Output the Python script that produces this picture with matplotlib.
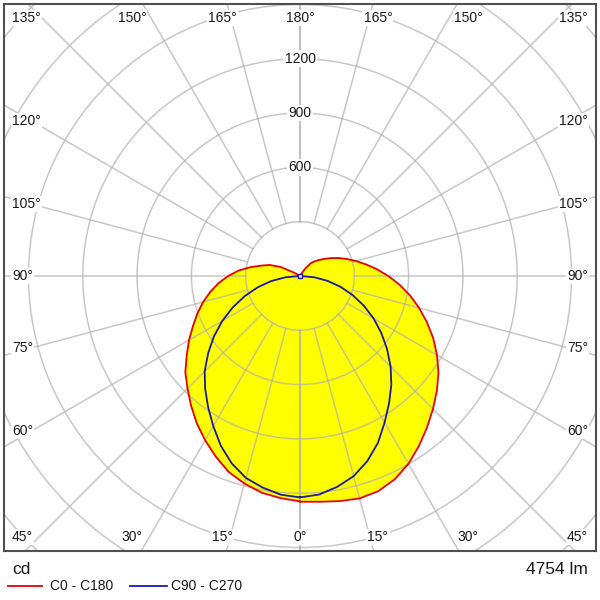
import numpy as np
import matplotlib.pyplot as plt
from matplotlib.patches import Circle
from matplotlib.lines import Line2D

plt.rcParams['font.family'] = ['Liberation Sans', 'DejaVu Sans']

# luminous intensity distribution (cd), gamma measured from nadir
gamma = [0, 5, 10, 15, 20, 25, 30, 35, 40, 45, 50, 55, 60, 65, 70, 75, 80, 85, 90,
         95, 100, 105, 110, 115, 120, 125, 130, 135, 140, 145, 150, 155, 160, 165, 170, 175, 180]
c0 = [1247, 1252, 1263, 1272, 1265, 1239, 1198, 1146, 1092, 1039, 987, 934, 874, 812, 746, 681, 617, 552, 488,
      427, 370, 320, 275, 235, 198, 165, 138, 115, 92, 50, 5, 0, 0, 0, 0, 0, 0]
c180 = [1245, 1232, 1216, 1187, 1152, 1101, 1048, 994, 936, 879, 827, 764, 708, 652, 603, 554, 503, 452, 397,
        341, 279, 222, 178, 118, 35, 0, 0, 0, 0, 0, 0, 0, 0, 0, 0, 0, 0]
c90 = [1223, 1212, 1183, 1145, 1088, 1018, 935, 858, 785, 708, 628, 548, 470, 390, 310, 232, 155, 78, 0,
       0, 0, 0, 0, 0, 0, 0, 0, 0, 0, 0, 0, 0, 0, 0, 0, 0, 0]
c270 = [1223, 1213, 1187, 1155, 1102, 1035, 958, 885, 815, 745, 662, 580, 495, 410, 325, 242, 162, 80, 0,
        0, 0, 0, 0, 0, 0, 0, 0, 0, 0, 0, 0, 0, 0, 0, 0, 0, 0]

ring_values = [300, 600, 900, 1200, 1500, 1800, 2100]
ring_labels = [600, 900, 1200]
spoke_angles = [0, 15, 30, 45, 60, 75, 90, 105, 120, 135, 150, 165, 180]
flux_text = '4754 lm'

PX = 1 / 0.181  # cd per pixel
TXT = '#1a1a1a'

fig = plt.figure(figsize=(6, 6), dpi=100)
ax = fig.add_axes([4 / 600, 49 / 600, 592 / 600, 547 / 600])
ax.set_xlim(-296 * PX, 296 * PX)
ax.set_ylim(-275 * PX, 272 * PX)
ax.set_xticks([])
ax.set_yticks([])
for sp in ax.spines.values():
    sp.set_color('#505050')
    sp.set_linewidth(1.5)


def half(values, side):
    g = np.radians(gamma)
    r = np.array(values, dtype=float)
    return side * r * np.sin(g), -r * np.cos(g)


def closed(right, left):
    xr, yr = half(right, 1)
    xl, yl = half(left, -1)
    return np.concatenate([xr, xl[::-1]]), np.concatenate([yr, yl[::-1]])


red_x, red_y = closed(c0, c180)
blue_x, blue_y = closed(c90, c270)

ax.fill(red_x, red_y, color='#ffff00', lw=0, zorder=1)
ax.fill(blue_x, blue_y, color='#ffff00', lw=0, zorder=1)

grid_c = '#b0b0b0'
for rv in ring_values:
    ax.add_patch(Circle((0, 0), rv, fill=False, ec=grid_c, lw=1.1, alpha=0.7, zorder=2))
for a in spoke_angles:
    t = np.radians(a)
    for s in (1, -1):
        ax.plot([s * 300 * np.sin(t), s * 2600 * np.sin(t)], [-300 * np.cos(t), -2600 * np.cos(t)],
                color=grid_c, lw=1.1, alpha=0.7, zorder=2)

ax.plot(red_x, red_y, color='#e60000', lw=1.3, zorder=4, solid_joinstyle='round')
ax.plot(blue_x, blue_y, color='#1a1a9a', lw=1.3, zorder=4, solid_joinstyle='round')
ax.plot([0], [0], marker='s', ms=3.5, mfc='white', mec='#1a1a9a', mew=1, zorder=5)

box = dict(facecolor='white', edgecolor='none', pad=1.0)
for rl in ring_labels:
    ax.text(0, rl, str(rl), ha='center', va='center', fontsize=10, color=TXT, bbox=box, zorder=6)

# angle labels around the frame
for a in spoke_angles:
    for s in (1, -1):
        if s == 1 and a in (0, 180):
            continue
        if a <= 45 or a >= 135:
            off = 291 * np.tan(np.radians(a if a <= 45 else 180 - a))
            y = -261 if a <= 45 else 258
            if off > 280:
                x, ha = s * 288, ('left' if s < 0 else 'right')
            else:
                x, ha = s * off, 'center'
        else:
            y = 268 * np.tan(np.radians(a - 90))
            x, ha = s * 288, ('left' if s < 0 else 'right')
        ax.text(x * PX, y * PX, f'{a}°', ha=ha, va='center', fontsize=10, color=TXT,
                bbox=dict(facecolor='white', edgecolor='none', pad=0.8), zorder=6)

fig.text(12 / 600, 1 - 569 / 600, 'cd', ha='left', va='center', fontsize=12.5, color=TXT)
fig.text(588 / 600, 1 - 569 / 600, flux_text, ha='right', va='center', fontsize=12.5, color=TXT)

ly = 1 - 586 / 600
fig.add_artist(Line2D([8 / 600, 42 / 600], [ly, ly], color='#e60000', lw=1.3))
fig.text(50 / 600, ly, 'C0 - C180', ha='left', va='center', fontsize=10, color=TXT)
fig.add_artist(Line2D([130 / 600, 167 / 600], [ly, ly], color='#1a1aa8', lw=1.3))
fig.text(171 / 600, ly, 'C90 - C270', ha='left', va='center', fontsize=10, color=TXT)

fig.savefig('out.png', dpi=100)
